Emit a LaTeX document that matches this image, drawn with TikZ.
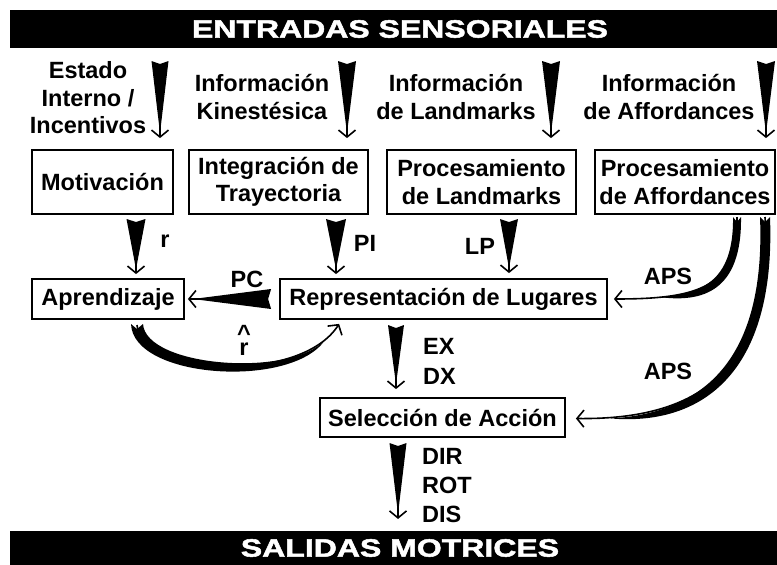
\documentclass[tikz,border=0pt]{standalone}
\usepackage{fontspec}
\setmainfont{Liberation Sans}
\newfontfamily\titlefont{Liberation Sans}[FakeStretch=1.28,FakeBold=2]
\usetikzlibrary{arrows.meta, calc, positioning}

\tikzset{
  lbl/.style={font=\bfseries\fontsize{23.5}{27.5}\selectfont, align=center, inner sep=0pt},
  box/.style={lbl, draw, line width=1.8pt},
  ttl/.style={font=\titlefont\bfseries\fontsize{25}{28}\selectfont, text=white, inner sep=0pt},
  tip/.style={line width=1.6pt, -{Straight Barb[length=7pt,width=17pt]}},
}

% tapered arrow: start, end, half width
\newcommand{\wedgearrow}[3]{%
  \fill ($(#1)!#3!90:(#2)$) -- ($(#1)!3pt!(#2)$) -- ($(#1)!#3!-90:(#2)$)
    -- ($(#2)!5pt!(#1)$) -- cycle;
  \draw[tip] ($(#2)!12pt!(#1)$) -- (#2);}

\begin{document}
\begin{tikzpicture}[x=1pt, y=-1pt]
\useasboundingbox (0,0) rectangle (777,565);

% barras
\fill (10,10) rectangle (777,48);
\fill (10,531) rectangle (777,565);
\node[ttl] (inbar) at (400,29) {ENTRADAS SENSORIALES};
\node[ttl] (outbar) at (400,548) {SALIDAS MOTRICES};

% entradas
\node[lbl] (est) at (88,98) {Estado\\Interno /\\Incentivos};
\node[lbl] (kin) at (262,97) {Información\\Kinestésica};
\node[lbl] (lmk) at (456,97) {Información\\de Landmarks};
\node[lbl] (afd) at (669,97) {Información\\de Affordances};

% modulos
\node[box, minimum width=141pt, minimum height=64pt] (mot) at (102.5,182) {Motivación};
\node[box, minimum width=179pt, minimum height=64pt] (intg) at (278.5,182) {Integración de\\Trayectoria};
\node[box, minimum width=189pt, minimum height=64pt] (plm) at (481.5,182) {Procesamiento\\de Landmarks};
\node[box, minimum width=180pt, minimum height=64pt] (paf) at (685,182) {Procesamiento\\de Affordances};
\node[box, minimum width=152pt, minimum height=40pt] (apr) at (108,299) {Aprendizaje};
\node[box, minimum width=327pt, minimum height=40pt] (rep) at (443.5,299) {Representación de Lugares};
\node[box, minimum width=245pt, minimum height=39pt] (sel) at (442.5,417.5) {Selección de Acción};

% etiquetas
\node[lbl] (lr) at (165,241) {r};
\node[lbl] (lpi) at (365,243) {PI};
\node[lbl] (llp) at (480,246) {LP};
\node[lbl] (lpc) at (247,279) {PC};
\node[lbl, font=\bfseries\fontsize{23.5}{14}\selectfont] (lrh) at (244,340) {\textasciicircum\\r};
\node[lbl] (laps1) at (668,276) {APS};
\node[lbl] (laps2) at (668,371) {APS};
\node[lbl, anchor=west] (lex) at (423,346) {EX};
\node[lbl, anchor=west] (ldx) at (423,376) {DX};
\node[lbl, anchor=west] (ldir) at (422,456) {DIR};
\node[lbl, anchor=west] (lrot) at (422,485) {ROT};
\node[lbl, anchor=west] (ldis) at (422,514) {DIS};

% flechas de entrada
\coordinate (e1) at (160,61);  \coordinate (f1) at ($(e1 |- mot.north)+(0,-11)$);
\coordinate (e2) at (347,61);  \coordinate (f2) at ($(e2 |- intg.north)+(0,-11)$);
\coordinate (e3) at (551,61);  \coordinate (f3) at ($(e3 |- plm.north)+(0,-11)$);
\coordinate (e4) at (766,61);  \coordinate (f4) at ($(e4 |- paf.north)+(0,-11)$);
\wedgearrow{e1}{f1}{8.5pt}
\wedgearrow{e2}{f2}{9pt}
\wedgearrow{e3}{f3}{9pt}
\wedgearrow{e4}{f4}{9pt}

% flechas intermedias
\coordinate (r1) at (136,219);  \coordinate (r2) at ($(r1 |- apr.north)+(0,-4)$);
\coordinate (p1) at (336,219);  \coordinate (p2) at ($(p1 |- rep.north)+(0,-4)$);
\coordinate (l1) at (509,219);  \coordinate (l2) at ($(l1 |- rep.north)+(0,-5)$);
\coordinate (pc1) at ($(rep.west)+(-8,0)$);  \coordinate (pc2) at ($(apr.east)+(3,0)$);
\coordinate (x1) at (396,325);  \coordinate (x2) at ($(x1 |- sel.north)+(0,-8)$);
\coordinate (d1) at (398,443);  \coordinate (d2) at ($(d1 |- outbar.north)+(0,-20)$);
\wedgearrow{r1}{r2}{9.5pt}
\wedgearrow{p1}{p2}{10pt}
\wedgearrow{l1}{l2}{9pt}
\wedgearrow{pc1}{pc2}{10pt}
\wedgearrow{x1}{x2}{8pt}
\wedgearrow{d1}{d2}{8.5pt}

% r gorro
\coordinate (rh2) at ($(rep.south west)+(60,4)$);
\fill (131,324) .. controls (133,379) and (292,389) .. (325,340)
   .. controls (290,378) and (146,367) .. (143,324) -- (137,329) -- cycle;
\draw[tip] (137,325) .. controls (140,375) and (300,385) .. (rh2);

% APS
\coordinate (a1) at ($(rep.east)+(6,0)$);
\coordinate (a2) at ($(sel.east)+(10,1)$);
\fill (733,217) .. controls (734,283) and (700,294) .. (659,297)
   .. controls (703,303) and (742,291) .. (741,217) -- (737,222) -- cycle;
\draw[tip] (737,217) .. controls (738,287) and (700,299) .. (a1);
\fill (760,217) .. controls (766,366) and (698,413) .. (611,418.5)
   .. controls (702,426) and (776,373) .. (770,217) -- (765,222) -- cycle;
\draw[tip] (765,217) .. controls (772,370) and (700,420) .. (a2);
\end{tikzpicture}
\end{document}
